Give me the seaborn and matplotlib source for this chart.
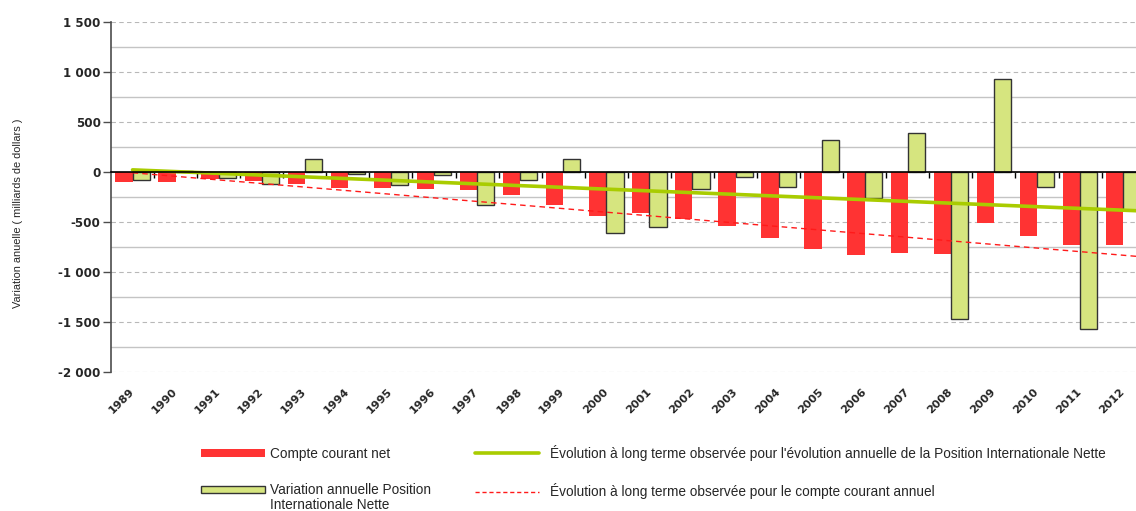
import matplotlib
matplotlib.use("Agg")
import matplotlib.pyplot as plt
from matplotlib.patches import Patch, Rectangle
from matplotlib.lines import Line2D
from matplotlib.legend_handler import HandlerPatch
from matplotlib.ticker import MultipleLocator, FuncFormatter
import numpy as np
import pandas as pd
import seaborn as sns

# --- data (milliards de dollars) ---
annees = [str(a) for a in range(1989, 2013)]
compte_courant = [-105, -105, -68, -90, -117, -157, -160, -173, -183, -230, -333, -440,
                  -410, -473, -537, -657, -773, -830, -813, -820, -507, -637, -730, -730]
variation_pin = [-77, 12, -62, -123, 127, -23, -133, -33, -330, -77, 127, -613,
                 -547, -170, -53, -155, 320, -257, 387, -1473, 930, -155, -1567, -380]

serie_cc = "Compte courant net"
serie_pin = "Variation annuelle Position\nInternationale Nette"
lib_tend_pin = ("Évolution à long terme observée pour l'évolution annuelle "
                "de la Position Internationale Nette")
lib_tend_cc = "Évolution à long terme observée pour le compte courant annuel"

ROUGE = "#FF3333"
VERT_BARRE = "#D6E57F"
VERT_LIGNE = "#A9CC00"
ROUGE_TIRETS = "#FF1A1A"

sns.set_style("white")
plt.rcParams["font.family"] = ["Liberation Sans", "DejaVu Sans"]
TICK_FONT = {"family": "DejaVu Sans", "weight": "bold"}

df = pd.DataFrame({
    "annee": annees * 2,
    "valeur": compte_courant + variation_pin,
    "serie": [serie_cc] * len(annees) + [serie_pin] * len(annees),
})

W, H = 1136, 511
fig = plt.figure(figsize=(W / 100, H / 100), dpi=100)
ax = fig.add_axes([111 / W, 1 - 372 / H, 24 * 43.07 / W, 350 / H])

sns.barplot(data=df, x="annee", y="valeur", hue="serie",
            hue_order=[serie_cc, serie_pin], palette=[ROUGE, VERT_BARRE],
            saturation=1, width=0.8, legend=False, ax=ax, zorder=3)
for p in ax.containers[0]:
    p.set_linewidth(0)
for p in ax.containers[1]:
    p.set_edgecolor("#333333")
    p.set_linewidth(1.0)

# linear long-term trends (least squares)
x = np.arange(len(annees))
xs = np.array([0, len(annees) - 0.5])
for vals, color, ls, lw in [(variation_pin, VERT_LIGNE, "-", 2.6),
                            (compte_courant, ROUGE_TIRETS, (0, (4, 3)), 1.0)]:
    a, b = np.polyfit(x, vals, 1)
    ax.plot(xs, a * xs + b, color=color, linestyle=ls, linewidth=lw, zorder=4)

ax.set_ylim(-2000, 1500)
ax.set_xlim(-0.5, len(annees) - 0.5)

# y axis
ax.yaxis.set_major_locator(MultipleLocator(500))
ax.yaxis.set_minor_locator(MultipleLocator(250))
ax.yaxis.set_major_formatter(FuncFormatter(lambda v, p: f"{v:,.0f}".replace(",", " ")))
ax.grid(axis="y", which="major", linestyle=(0, (4, 3)), color="#b8b8b8", linewidth=0.8, zorder=0)
ax.grid(axis="y", which="minor", linestyle="-", color="#c4c4c4", linewidth=1.0, zorder=0)
ax.set_axisbelow(True)
ax.tick_params(axis="y", which="major", direction="out", length=5.5, width=1,
               color="#4d4d4d", pad=2, left=True)
ax.tick_params(axis="y", which="minor", length=0)
for t in ax.get_yticklabels():
    t.set_fontproperties(TICK_FONT)
    t.set_fontsize(8.6)
ax.spines["left"].set_color("#4d4d4d")
ax.spines["left"].set_linewidth(1.2)
ax.spines["top"].set_visible(False)
ax.spines["right"].set_visible(False)
ax.set_ylabel("")
ax.set_xlabel("")

# zero line carries the category separators
ax.spines["bottom"].set_position(("data", 0))
ax.spines["bottom"].set_color("black")
ax.spines["bottom"].set_linewidth(1.2)
ax.spines["bottom"].set_zorder(5)
ax.set_xticks(x[:-1] + 0.5, labels=[])
ax.tick_params(axis="x", which="major", direction="out", length=4.5, width=1,
               color="black", bottom=True)

# year labels along the bottom edge
sec = ax.secondary_xaxis("bottom")
sec.set_xticks(x, labels=annees)
sec.tick_params(axis="x", length=0, pad=13)
sec.spines["bottom"].set_visible(False)
for t in sec.get_xticklabels():
    t.set_fontproperties(TICK_FONT)
    t.set_fontsize(8.0)
    t.set_rotation(45)
    t.set_ha("right")
    t.set_va("center")
    t.set_rotation_mode("anchor")

fig.text(18 / W, 1 - 213 / H, "Variation anuelle ( milliards de dollars )",
         rotation=90, ha="center", va="center", fontsize=7.9)

# --- legends, two columns under the plot ---
LEG_SIZE = 9.8
LINE_GAP = 1.08


def first_line_patch(legend, orig_handle, xdescent, ydescent, width, height, fontsize):
    # keep the swatch level with the first line of a two-line label
    shift = fontsize * 0.57 * LINE_GAP
    return Rectangle((-xdescent, -ydescent + shift), width, height)


swatch_cc = Patch(facecolor=ROUGE, edgecolor="none")
swatch_pin = Patch(facecolor=VERT_BARRE, edgecolor="#333333", linewidth=1.0)
col1 = fig.legend(
    [swatch_cc, swatch_pin], [serie_cc, serie_pin],
    handler_map={swatch_pin: HandlerPatch(patch_func=first_line_patch)},
    loc="upper left", bbox_to_anchor=(201 / W, 1 - 447 / H), frameon=False,
    fontsize=LEG_SIZE, handlelength=4.7, handleheight=0.5, handletextpad=0.4,
    labelspacing=1.6, borderaxespad=0, borderpad=0)
col1.get_texts()[1].set_linespacing(LINE_GAP)

col2 = fig.legend(
    [Line2D([], [], color=VERT_LIGNE, linewidth=2.6),
     Line2D([], [], color=ROUGE_TIRETS, linewidth=1.0, linestyle=(0, (3, 2)))],
    [lib_tend_pin, lib_tend_cc],
    loc="upper left", bbox_to_anchor=(475 / W, 1 - 445 / H), frameon=False,
    fontsize=LEG_SIZE, handlelength=4.7, handletextpad=0.8,
    labelspacing=1.65, borderaxespad=0, borderpad=0)

fig.savefig("out.png", dpi=100)
